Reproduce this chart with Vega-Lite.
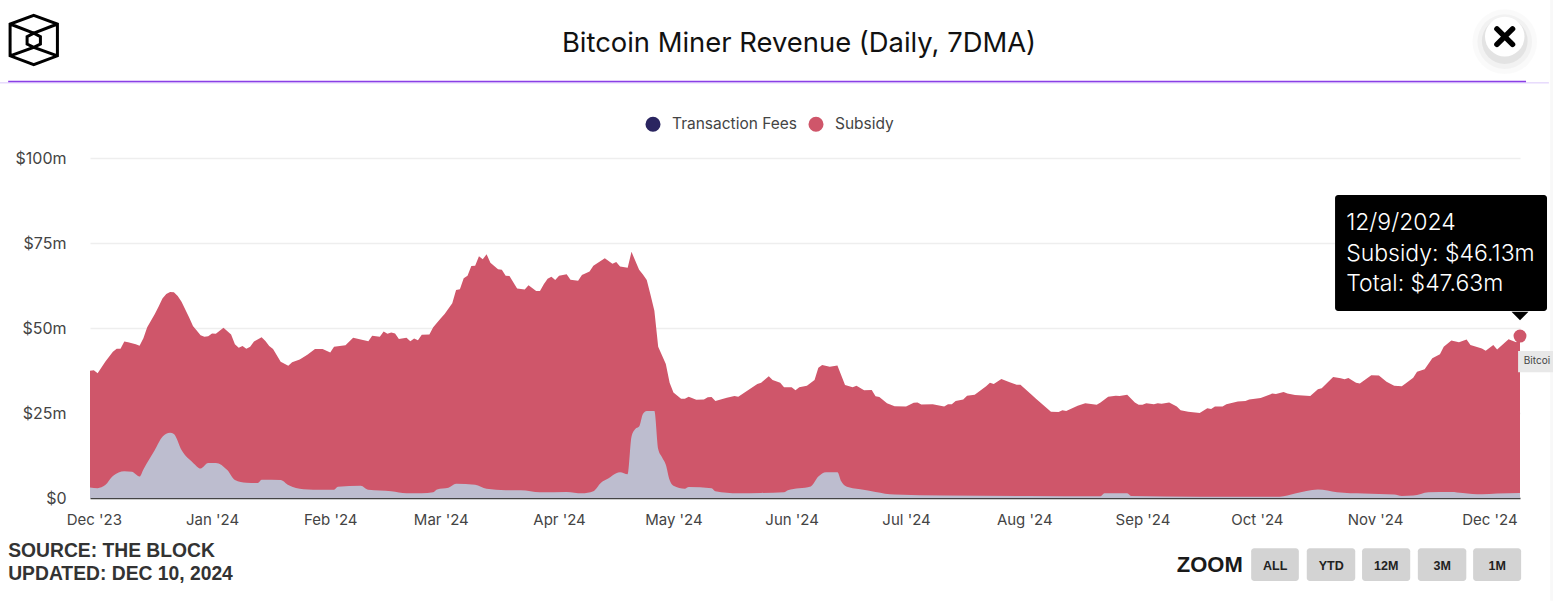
{"$schema":"https://vega.github.io/schema/vega-lite/v6.json","width":1430,"height":340,"autosize":"none","padding":{"left":90,"top":158,"right":33,"bottom":103},"background":"white","view":{"stroke":null},
"config":{"font":"Inter"},
"datasets":{
"total":[{"date":"2023-11-30","value":37.4},{"date":"2023-12-01","value":37.6},{"date":"2023-12-02","value":36.7},{"date":"2023-12-04","value":40.1},{"date":"2023-12-06","value":43},{"date":"2023-12-07","value":43.9},{"date":"2023-12-08","value":43.9},{"date":"2023-12-09","value":46},{"date":"2023-12-10","value":45.8},{"date":"2023-12-12","value":45.2},{"date":"2023-12-13","value":44.8},{"date":"2023-12-14","value":47},{"date":"2023-12-15","value":50.2},{"date":"2023-12-17","value":54.1},{"date":"2023-12-18","value":56.3},{"date":"2023-12-19","value":58.7},{"date":"2023-12-20","value":60},{"date":"2023-12-21","value":60.6},{"date":"2023-12-22","value":60.5},{"date":"2023-12-23","value":59.4},{"date":"2023-12-24","value":57.7},{"date":"2023-12-26","value":53.1},{"date":"2023-12-27","value":50.6},{"date":"2023-12-29","value":47.9},{"date":"2023-12-30","value":47.4},{"date":"2023-12-31","value":47.6},
{"date":"2024-01-01","value":48.4},{"date":"2024-01-02","value":48.3},{"date":"2024-01-04","value":50.1},{"date":"2024-01-06","value":48.1},{"date":"2024-01-07","value":45.2},{"date":"2024-01-08","value":44.2},{"date":"2024-01-09","value":44.7},{"date":"2024-01-10","value":43.9},{"date":"2024-01-11","value":44.5},{"date":"2024-01-12","value":46},{"date":"2024-01-14","value":47.3},{"date":"2024-01-15","value":46.2},{"date":"2024-01-16","value":44.7},{"date":"2024-01-17","value":43.8},{"date":"2024-01-19","value":40.1},{"date":"2024-01-21","value":38.9},{"date":"2024-01-22","value":39.9},{"date":"2024-01-24","value":40.7},{"date":"2024-01-26","value":42.1},{"date":"2024-01-28","value":43.8},{"date":"2024-01-30","value":43.8},
{"date":"2024-02-01","value":42.8},{"date":"2024-02-02","value":44.5},{"date":"2024-02-05","value":44.9},{"date":"2024-02-07","value":47.1},{"date":"2024-02-11","value":46.1},{"date":"2024-02-12","value":47.7},{"date":"2024-02-14","value":47.4},{"date":"2024-02-15","value":49},{"date":"2024-02-16","value":48.3},{"date":"2024-02-17","value":48.7},{"date":"2024-02-18","value":48.4},{"date":"2024-02-19","value":46.8},{"date":"2024-02-21","value":47.1},{"date":"2024-02-22","value":46.1},{"date":"2024-02-23","value":46.9},{"date":"2024-02-24","value":46.4},{"date":"2024-02-25","value":48},{"date":"2024-02-27","value":48.1},{"date":"2024-02-28","value":50.2},
{"date":"2024-03-01","value":52.9},{"date":"2024-03-02","value":54.1},{"date":"2024-03-04","value":57.3},{"date":"2024-03-05","value":61.2},{"date":"2024-03-06","value":61.4},{"date":"2024-03-07","value":64.6},{"date":"2024-03-08","value":65.4},{"date":"2024-03-09","value":68.2},{"date":"2024-03-10","value":68.3},{"date":"2024-03-11","value":71.1},{"date":"2024-03-12","value":70.2},{"date":"2024-03-13","value":71.7},{"date":"2024-03-14","value":69.2},{"date":"2024-03-16","value":67.3},{"date":"2024-03-17","value":67.1},{"date":"2024-03-18","value":65.4},{"date":"2024-03-19","value":65.3},{"date":"2024-03-21","value":61.6},{"date":"2024-03-23","value":61.3},{"date":"2024-03-24","value":62.6},{"date":"2024-03-26","value":60.9},{"date":"2024-03-27","value":60.9},{"date":"2024-03-28","value":62.9},{"date":"2024-03-29","value":64.5},{"date":"2024-03-30","value":65.1},{"date":"2024-03-31","value":64.1},
{"date":"2024-04-01","value":65.4},{"date":"2024-04-03","value":65.8},{"date":"2024-04-04","value":64.2},{"date":"2024-04-06","value":63.9},{"date":"2024-04-07","value":65.6},{"date":"2024-04-09","value":66.6},{"date":"2024-04-10","value":68.3},{"date":"2024-04-13","value":70.5},{"date":"2024-04-15","value":68.9},{"date":"2024-04-16","value":69.4},{"date":"2024-04-17","value":68.1},{"date":"2024-04-19","value":67.7},{"date":"2024-04-20","value":72.4},{"date":"2024-04-22","value":67.1},{"date":"2024-04-23","value":65.7},{"date":"2024-04-24","value":64.1},{"date":"2024-04-25","value":59.7},{"date":"2024-04-26","value":55.1},{"date":"2024-04-27","value":44.5},{"date":"2024-04-29","value":39.4},{"date":"2024-04-30","value":33.9},
{"date":"2024-05-01","value":31},{"date":"2024-05-03","value":29.2},{"date":"2024-05-04","value":29.2},{"date":"2024-05-05","value":29.8},{"date":"2024-05-07","value":28.9},{"date":"2024-05-09","value":29},{"date":"2024-05-10","value":29.6},{"date":"2024-05-11","value":29.7},{"date":"2024-05-12","value":28.5},{"date":"2024-05-15","value":29.5},{"date":"2024-05-17","value":30},{"date":"2024-05-18","value":29.8},{"date":"2024-05-23","value":33.5},{"date":"2024-05-24","value":33.9},{"date":"2024-05-26","value":35.8},{"date":"2024-05-27","value":34.7},{"date":"2024-05-29","value":33.9},{"date":"2024-05-30","value":32.6},
{"date":"2024-06-01","value":32.6},{"date":"2024-06-02","value":31.7},{"date":"2024-06-03","value":32.6},{"date":"2024-06-05","value":33},{"date":"2024-06-07","value":34.7},{"date":"2024-06-08","value":38.3},{"date":"2024-06-09","value":39.1},{"date":"2024-06-11","value":38.6},{"date":"2024-06-13","value":39},{"date":"2024-06-15","value":33.2},{"date":"2024-06-17","value":32.6},{"date":"2024-06-18","value":33},{"date":"2024-06-20","value":31.7},{"date":"2024-06-22","value":31.8},{"date":"2024-06-23","value":29.9},{"date":"2024-06-24","value":29.7},{"date":"2024-06-26","value":27.9},{"date":"2024-06-28","value":27},
{"date":"2024-07-01","value":26.9},{"date":"2024-07-03","value":28},{"date":"2024-07-04","value":28.1},{"date":"2024-07-05","value":27.5},{"date":"2024-07-08","value":27.6},{"date":"2024-07-11","value":26.9},{"date":"2024-07-12","value":27.6},{"date":"2024-07-13","value":27.6},{"date":"2024-07-14","value":28.5},{"date":"2024-07-16","value":29},{"date":"2024-07-17","value":30.1},{"date":"2024-07-19","value":30.4},{"date":"2024-07-22","value":32.9},{"date":"2024-07-23","value":33.9},{"date":"2024-07-24","value":33.5},{"date":"2024-07-26","value":35},{"date":"2024-07-28","value":34.1},{"date":"2024-07-30","value":33.3},{"date":"2024-07-31","value":33.3},
{"date":"2024-08-03","value":30.3},{"date":"2024-08-04","value":29.3},{"date":"2024-08-08","value":25.4},{"date":"2024-08-10","value":25.3},{"date":"2024-08-11","value":25.8},{"date":"2024-08-12","value":25.6},{"date":"2024-08-15","value":27.1},{"date":"2024-08-17","value":27.9},{"date":"2024-08-20","value":27.4},{"date":"2024-08-21","value":28.1},{"date":"2024-08-23","value":29.8},{"date":"2024-08-25","value":30.1},{"date":"2024-08-26","value":30},{"date":"2024-08-28","value":30.4},{"date":"2024-08-30","value":28.1},{"date":"2024-08-31","value":27.4},
{"date":"2024-09-01","value":27.4},{"date":"2024-09-02","value":27.9},{"date":"2024-09-04","value":27.6},{"date":"2024-09-05","value":27.9},{"date":"2024-09-06","value":27.7},{"date":"2024-09-08","value":28.1},{"date":"2024-09-10","value":26.9},{"date":"2024-09-11","value":25.8},{"date":"2024-09-13","value":25.4},{"date":"2024-09-16","value":25},{"date":"2024-09-18","value":26.4},{"date":"2024-09-19","value":26.2},{"date":"2024-09-20","value":26.9},{"date":"2024-09-22","value":26.9},{"date":"2024-09-23","value":27.6},{"date":"2024-09-26","value":28.4},{"date":"2024-09-28","value":28.5},{"date":"2024-09-29","value":29},
{"date":"2024-10-02","value":29.4},{"date":"2024-10-05","value":30.7},{"date":"2024-10-06","value":30.6},{"date":"2024-10-08","value":31.2},{"date":"2024-10-09","value":30.7},{"date":"2024-10-11","value":30.3},{"date":"2024-10-15","value":30},{"date":"2024-10-17","value":32},{"date":"2024-10-18","value":32.3},{"date":"2024-10-21","value":35.6},{"date":"2024-10-23","value":35.2},{"date":"2024-10-24","value":34.9},{"date":"2024-10-25","value":35.3},{"date":"2024-10-27","value":33.9},{"date":"2024-10-28","value":33.7},{"date":"2024-10-31","value":36.1},
{"date":"2024-11-02","value":36},{"date":"2024-11-04","value":34.2},{"date":"2024-11-06","value":33},{"date":"2024-11-08","value":32.9},{"date":"2024-11-09","value":33.7},{"date":"2024-11-11","value":35.4},{"date":"2024-11-12","value":37.1},{"date":"2024-11-14","value":37.9},{"date":"2024-11-16","value":41.1},{"date":"2024-11-18","value":42.3},{"date":"2024-11-19","value":44.5},{"date":"2024-11-21","value":46.3},{"date":"2024-11-23","value":45.8},{"date":"2024-11-25","value":46.6},{"date":"2024-11-26","value":45},{"date":"2024-11-29","value":44},{"date":"2024-11-30","value":43.3},
{"date":"2024-12-02","value":45},{"date":"2024-12-03","value":43.7},{"date":"2024-12-06","value":46.7},{"date":"2024-12-08","value":45.8},{"date":"2024-12-09","value":47.63}],
"fees":[{"date":"2023-11-30","value":3.1},{"date":"2023-12-02","value":2.9},{"date":"2023-12-04","value":3.8},{"date":"2023-12-06","value":6.5},{"date":"2023-12-09","value":7.9},{"date":"2023-12-11","value":7.7},{"date":"2023-12-13","value":6.3},{"date":"2023-12-14","value":8.4},{"date":"2023-12-17","value":14.1},{"date":"2023-12-19","value":18},{"date":"2023-12-21","value":19.2},{"date":"2023-12-22","value":18.8},{"date":"2023-12-24","value":14.1},{"date":"2023-12-27","value":10.4},{"date":"2023-12-29","value":8.7},{"date":"2023-12-31","value":10.3},{"date":"2024-01-02","value":10.3},{"date":"2024-01-05","value":8.2},{"date":"2024-01-07","value":5.3},{"date":"2024-01-10","value":4.5},{"date":"2024-01-13","value":4.4},{"date":"2024-01-14","value":5.4},{"date":"2024-01-19","value":5.3},{"date":"2024-01-21","value":3.8},{"date":"2024-01-25","value":2.6},{"date":"2024-01-30","value":2.4},{"date":"2024-02-02","value":2.4},{"date":"2024-02-03","value":3.3},{"date":"2024-02-09","value":3.6},{"date":"2024-02-11","value":2.4},{"date":"2024-02-17","value":2},{"date":"2024-02-21","value":1.4},{"date":"2024-02-25","value":1.4},{"date":"2024-02-28","value":1.7},{"date":"2024-02-29","value":2.5},{"date":"2024-03-03","value":3},{"date":"2024-03-05","value":4.2},{"date":"2024-03-10","value":3.9},{"date":"2024-03-13","value":2.7},{"date":"2024-03-18","value":2.3},{"date":"2024-03-22","value":2.3},{"date":"2024-03-27","value":1.7},{"date":"2024-04-03","value":1.8},{"date":"2024-04-07","value":1.4},{"date":"2024-04-10","value":2},{"date":"2024-04-12","value":4.5},{"date":"2024-04-14","value":5.8},{"date":"2024-04-16","value":7.3},{"date":"2024-04-17","value":7.6},{"date":"2024-04-19","value":7},{"date":"2024-04-20","value":18},{"date":"2024-04-21","value":20.3},{"date":"2024-04-22","value":21},{"date":"2024-04-23","value":24.7},{"date":"2024-04-24","value":25.6},{"date":"2024-04-26","value":25.6},{"date":"2024-04-27","value":14.4},{"date":"2024-04-28","value":12},{"date":"2024-04-29","value":9.8},{"date":"2024-04-30","value":5.3},{"date":"2024-05-01","value":3.6},{"date":"2024-05-04","value":2.7},{"date":"2024-05-05","value":3.2},{"date":"2024-05-11","value":2.9},{"date":"2024-05-12","value":2},{"date":"2024-05-18","value":1.4},{"date":"2024-05-24","value":1.5},{"date":"2024-05-30","value":1.7},{"date":"2024-05-31","value":2.3},{"date":"2024-06-06","value":3.4},{"date":"2024-06-08","value":6.3},{"date":"2024-06-10","value":7.6},{"date":"2024-06-13","value":7.6},{"date":"2024-06-14","value":4.9},{"date":"2024-06-15","value":3.6},{"date":"2024-06-17","value":2.9},{"date":"2024-06-19","value":2.6},{"date":"2024-06-23","value":1.8},{"date":"2024-06-28","value":1},{"date":"2024-07-11","value":0.7},{"date":"2024-08-02","value":0.6},{"date":"2024-08-21","value":0.5},{"date":"2024-08-22","value":1.4},{"date":"2024-08-28","value":1.4},{"date":"2024-08-29","value":0.6},{"date":"2024-09-16","value":0.4},{"date":"2024-10-07","value":0.4},{"date":"2024-10-11","value":1.3},{"date":"2024-10-17","value":2.5},{"date":"2024-10-22","value":1.7},{"date":"2024-10-29","value":1.3},{"date":"2024-11-06","value":1},{"date":"2024-11-08","value":0.6},{"date":"2024-11-11","value":0.7},{"date":"2024-11-15","value":1.7},{"date":"2024-11-21","value":1.8},{"date":"2024-11-24","value":1.5},{"date":"2024-11-29","value":1.1},{"date":"2024-12-03","value":1.3},{"date":"2024-12-09","value":1.5}],
"tipLines":[{"date":"2024-10-24T10:00:00Z","value":81,"label":"12/9/2024"},{"date":"2024-10-24T10:00:00Z","value":71.9,"label":"Subsidy: $46.13m"},{"date":"2024-10-24T10:00:00Z","value":62.8,"label":"Total: $47.63m"}],
"buttons":[{"date":"2024-09-29T12:00:00Z","date2":"2024-10-12T00:00:00Z","value":-14.8,"value2":-24.4},{"date":"2024-10-14T02:00:00Z","date2":"2024-10-26T19:00:00Z","value":-14.8,"value2":-24.4},{"date":"2024-10-28T14:00:00Z","date2":"2024-11-10T05:00:00Z","value":-14.8,"value2":-24.4},{"date":"2024-11-12T05:00:00Z","date2":"2024-11-24T22:00:00Z","value":-14.8,"value2":-24.4},{"date":"2024-11-26T17:00:00Z","date2":"2024-12-09T07:00:00Z","value":-14.8,"value2":-24.4}],
"buttonText":[{"date":"2024-10-05T19:00:00Z","value":-20,"label":"ALL"},{"date":"2024-10-20T12:00:00Z","value":-20,"label":"YTD"},{"date":"2024-11-03T22:00:00Z","value":-20,"label":"12M"},{"date":"2024-11-18T14:00:00Z","value":-20,"label":"3M"},{"date":"2024-12-03T00:00:00Z","value":-20,"label":"1M"}],
"footer":[{"date":"2023-11-08T13:00:00Z","value":-15.5,"label":"SOURCE: THE BLOCK"},{"date":"2023-11-08T13:00:00Z","value":-22.3,"label":"UPDATED: DEC 10, 2024"}]
},
"encoding":{
"x":{"field":"date","type":"temporal","title":null,"scale":{"type":"utc","domain":["2023-11-30T00:00:00Z","2024-12-09T00:00:00Z"]},"axis":{"format":"%b '%y","tickCount":{"interval":"month","step":1},"grid":false,"ticks":false,"domain":true,"domainColor":"#444444","domainWidth":1.5,"labelFont":"Inter","labelFontSize":15,"labelColor":"#444444","labelPadding":14,"labelOverlap":false,"labelFlush":false}},
"y":{"field":"value","type":"quantitative","title":null,"scale":{"domain":[0,100],"nice":false},"axis":{"values":[0,25,50,75,100],"labelExpr":"datum.value==0?'$0':'$'+datum.value+'m'","grid":true,"gridColor":"#eeeeee","gridWidth":1.5,"ticks":false,"domain":false,"labelFont":"Inter","labelFontSize":16,"labelColor":"#444444","labelPadding":24}}
},
"layer":[
{"data":{"values":[{"date":"2024-12-16T22:00:00Z","date2":"2024-12-17T20:00:00Z","value":146.5,"value2":-30.2}]},"mark":{"type":"rect","color":"#f8f8f8"},"encoding":{"x2":{"field":"date2"},"y2":{"field":"value2"}}},
{"data":{"name":"total"},"mark":{"type":"area","interpolate":"linear"},"encoding":{"color":{"datum":"Subsidy","type":"nominal","scale":{"domain":["Transaction Fees","Subsidy"],"range":["#2a2560","#cf566a"]},"legend":{"title":null,"orient":"none","legendX":555,"legendY":-42,"direction":"horizontal","symbolType":"circle","symbolSize":227,"symbolOpacity":1,"symbolStrokeWidth":0,"labelFont":"Inter","labelFontSize":15.5,"labelColor":"#444444","labelOffset":11,"columnPadding":11}}}},
{"data":{"name":"fees"},"mark":{"type":"area","interpolate":"monotone","color":"#bdbdcf"}},
{"data":{"values":[{"date":"2023-11-06T09:00:00Z","date2":"2024-12-16T14:00:00Z","value":122.1}]},"mark":{"type":"rule","color":"#dcc8fb","strokeWidth":1},"encoding":{"x2":{"field":"date2"}}},
{"data":{"values":[{"date":"2023-11-08T13:00:00Z","date2":"2024-12-10T14:00:00Z","value":122.5}]},"mark":{"type":"rule","color":"#8a3fe6","strokeWidth":1.4},"encoding":{"x2":{"field":"date2"}}},
{"data":{"values":[{"date":"2024-06-02T22:00:00Z","value":133.5,"label":"Bitcoin Miner Revenue (Daily, 7DMA)"}]},"mark":{"type":"text","align":"center","baseline":"middle","font":"Inter","fontSize":27.4,"fontWeight":400,"color":"#111111"},"encoding":{"text":{"field":"label"}}},
{"data":{"values":[{"date":"2023-11-15T06:00:00Z","value":134.7}]},"mark":{"type":"point","shape":"M0,-1L.96,-.65L.96,.64L0,1L-.96,.64L-.96,-.65ZM-.96,-.65L0,-.28L.96,-.65M-.96,.64L0,.3L.96,.64M0,-.28L.27,-.14L.27,.16L0,.3L-.27,.16L-.27,-.14Z","size":2430,"filled":false,"stroke":"#000000","strokeWidth":3,"opacity":1}},
{"data":{"values":[{"date":"2024-12-05T00:00:00Z","value":134.2}]},"mark":{"type":"point","shape":"circle","size":4200,"filled":true,"color":"#000000","opacity":0.02}},
{"data":{"values":[{"date":"2024-12-05T00:00:00Z","value":134.2}]},"mark":{"type":"point","shape":"circle","size":3000,"filled":true,"color":"#000000","opacity":0.03}},
{"data":{"values":[{"date":"2024-12-05T00:00:00Z","value":134.4}]},"mark":{"type":"point","shape":"circle","size":2100,"filled":true,"color":"#000000","opacity":0.06}},
{"data":{"values":[{"date":"2024-12-05T00:00:00Z","value":135.7}]},"mark":{"type":"point","shape":"circle","size":1562,"filled":true,"color":"#ffffff","opacity":1}},
{"data":{"values":[{"date":"2024-12-05T00:00:00Z","value":135.7}]},"mark":{"type":"point","shape":"M-.8,-.8L.8,.8M-.8,.8L.8,-.8","size":380,"filled":false,"stroke":"#000000","strokeWidth":5.5,"strokeCap":"round","opacity":1}},
{"data":{"values":[{"date":"2024-10-21T12:00:00Z","date2":"2024-12-16T02:00:00Z","value":89.1,"value2":55}]},"mark":{"type":"rect","color":"#000000","cornerRadius":3},"encoding":{"x2":{"field":"date2"},"y2":{"field":"value2"}}},
{"data":{"values":[{"date":"2024-12-09T00:00:00Z","value":53.5}]},"mark":{"type":"point","shape":"M-1,-.5L1,-.5L0,.5Z","size":289,"filled":true,"color":"#000000","opacity":1}},
{"data":{"name":"tipLines"},"mark":{"type":"text","align":"left","baseline":"middle","font":"Inter","fontSize":23,"fontWeight":300,"color":"#ffffff"},"encoding":{"text":{"field":"label"}}},
{"data":{"values":[{"date":"2024-12-08T12:00:00Z","date2":"2024-12-17T20:00:00Z","value":43.2,"value2":37}]},"mark":{"type":"rect","color":"#e8e8e8"},"encoding":{"x2":{"field":"date2"},"y2":{"field":"value2"}}},
{"data":{"values":[{"date":"2024-12-10T00:00:00Z","value":40.3,"label":"Bitcoi"}]},"mark":{"type":"text","align":"left","baseline":"middle","font":"Inter","fontSize":10,"color":"#444444"},"encoding":{"text":{"field":"label"}}},
{"data":{"values":[{"date":"2024-12-09T00:00:00Z","value":47.63}]},"mark":{"type":"point","shape":"circle","size":167,"filled":true,"color":"#cf566a","opacity":1}},
{"data":{"name":"footer"},"mark":{"type":"text","align":"left","baseline":"middle","font":"Liberation Sans","fontSize":19.3,"fontWeight":"bold","color":"#333333"},"encoding":{"text":{"field":"label"}}},
{"data":{"values":[{"date":"2024-09-10T00:00:00Z","value":-19.8,"label":"ZOOM"}]},"mark":{"type":"text","align":"left","baseline":"middle","font":"Liberation Sans","fontSize":22,"fontWeight":"bold","color":"#1a1a1a"},"encoding":{"text":{"field":"label"}}},
{"data":{"name":"buttons"},"mark":{"type":"rect","color":"#d3d3d3","cornerRadius":3},"encoding":{"x2":{"field":"date2"},"y2":{"field":"value2"}}},
{"data":{"name":"buttonText"},"mark":{"type":"text","align":"center","baseline":"middle","font":"Liberation Sans","fontSize":12.5,"fontWeight":"bold","color":"#222222"},"encoding":{"text":{"field":"label"}}}
]}
